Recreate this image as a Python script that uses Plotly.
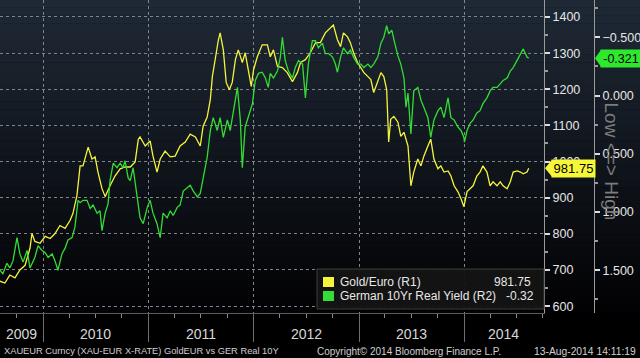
import plotly.graph_objects as go

# ---------------- data ----------------
gold_dates = [
    "2009-08-04", "2009-08-21", "2009-09-07", "2009-09-25", "2009-10-12", "2009-10-30", "2009-11-16", "2009-11-23",
    "2009-12-03", "2009-12-21",
    "2010-01-08", "2010-01-25", "2010-02-11", "2010-02-28", "2010-03-18", "2010-04-04", "2010-04-14", "2010-04-28",
    "2010-05-09", "2010-05-19", "2010-06-06", "2010-06-19", "2010-06-30", "2010-07-10", "2010-07-24", "2010-08-04",
    "2010-08-21", "2010-09-07", "2010-09-25", "2010-10-12", "2010-10-30", "2010-11-16", "2010-11-27", "2010-12-03",
    "2010-12-21",
    "2011-01-07", "2011-01-17", "2011-01-31", "2011-02-11", "2011-02-28", "2011-03-18", "2011-04-04", "2011-04-21",
    "2011-05-09", "2011-05-26", "2011-06-13", "2011-06-30", "2011-07-10", "2011-07-24", "2011-08-04", "2011-08-11",
    "2011-08-21", "2011-09-01", "2011-09-07", "2011-09-18", "2011-09-28", "2011-10-09", "2011-10-19", "2011-10-30",
    "2011-11-09", "2011-11-23", "2011-12-03", "2011-12-14", "2011-12-24",
    "2012-01-01", "2012-01-14", "2012-01-31", "2012-02-18", "2012-02-28", "2012-03-10", "2012-03-24", "2012-04-10",
    "2012-04-27", "2012-05-15", "2012-06-01", "2012-06-12", "2012-06-29", "2012-07-16", "2012-08-03", "2012-08-20",
    "2012-09-06", "2012-09-24", "2012-10-04", "2012-10-18", "2012-10-29", "2012-11-08", "2012-11-22", "2012-12-02",
    "2012-12-13", "2012-12-27",
    "2013-01-08", "2013-01-18", "2013-02-01", "2013-02-11", "2013-02-21", "2013-03-07", "2013-03-18", "2013-03-28",
    "2013-04-07", "2013-04-14", "2013-04-21", "2013-05-02", "2013-05-16", "2013-05-26", "2013-06-06", "2013-06-20",
    "2013-06-30", "2013-07-10", "2013-07-24", "2013-08-04", "2013-08-14", "2013-08-28", "2013-09-07", "2013-09-18",
    "2013-10-02", "2013-10-12", "2013-10-23", "2013-11-06", "2013-11-16", "2013-11-27", "2013-12-10", "2013-12-21",
    "2013-12-31",
    "2014-01-11", "2014-01-21", "2014-02-01", "2014-02-14", "2014-02-25", "2014-03-07", "2014-03-21", "2014-04-01",
    "2014-04-11", "2014-04-25", "2014-05-06", "2014-05-16", "2014-05-30", "2014-06-10", "2014-06-20", "2014-07-04",
    "2014-07-15", "2014-07-25", "2014-08-07", "2014-08-13",
]
gold_eur = [
    669, 664, 686, 678, 700, 713, 760, 801, 779, 774,
    793, 787, 801, 823, 815, 837, 856, 906, 988, 988, 1040, 1007, 1013, 971, 925, 903, 933, 960, 980, 985, 985, 999,
    1062, 1068, 1043,
    1057, 1015, 971, 1007, 1029, 1013, 1015, 1043, 1054, 1076, 1068, 1043, 1098, 1123, 1172, 1235, 1290, 1337, 1356,
    1309, 1219, 1199, 1219, 1282, 1309, 1274, 1301, 1254, 1208,
    1254, 1290, 1323, 1323, 1290, 1309, 1263, 1260, 1246, 1221, 1246, 1274, 1282, 1301, 1329, 1329, 1356, 1370, 1378,
    1337, 1318, 1356, 1345, 1329, 1301, 1274,
    1260, 1246, 1235, 1227, 1191, 1219, 1246, 1235, 1199, 1054, 1117, 1125, 1109, 1070, 1081, 1043, 933, 971, 1007,
    988, 1015, 1043, 1062, 1007, 980, 988, 971, 974, 960, 933, 917, 897, 875,
    917, 925, 933, 960, 971, 988, 971, 933, 944, 933, 944, 933, 925, 944, 971, 974, 971, 966, 971, 981.75,
]

yield_dates = [
    "2009-08-04", "2009-08-14", "2009-08-28", "2009-09-07", "2009-09-18", "2009-10-02", "2009-10-12", "2009-10-23",
    "2009-11-06", "2009-11-16", "2009-12-03", "2009-12-14", "2009-12-28",
    "2010-01-08", "2010-01-18", "2010-02-01", "2010-02-11", "2010-02-21", "2010-03-07", "2010-03-18", "2010-03-28",
    "2010-04-11", "2010-04-21", "2010-05-02", "2010-05-09", "2010-05-19", "2010-06-02", "2010-06-13", "2010-06-23",
    "2010-07-07", "2010-07-17", "2010-07-24", "2010-08-04", "2010-08-14", "2010-08-21", "2010-09-01", "2010-09-14",
    "2010-09-25", "2010-10-05", "2010-10-12", "2010-10-23", "2010-10-30", "2010-11-09", "2010-11-16", "2010-11-27",
    "2010-12-03", "2010-12-14", "2010-12-28",
    "2011-01-07", "2011-01-17", "2011-01-31", "2011-02-11", "2011-02-21", "2011-03-07", "2011-03-18", "2011-03-28",
    "2011-04-11", "2011-04-21", "2011-05-02", "2011-05-16", "2011-05-26", "2011-06-06", "2011-06-20", "2011-06-30",
    "2011-07-10", "2011-07-24", "2011-08-04", "2011-08-14", "2011-08-28", "2011-09-07", "2011-09-18", "2011-10-02",
    "2011-10-12", "2011-10-23", "2011-11-06", "2011-11-16", "2011-11-23", "2011-12-03", "2011-12-14", "2011-12-28",
    "2012-01-07", "2012-01-18", "2012-01-31", "2012-02-11", "2012-02-21", "2012-02-28", "2012-03-10", "2012-03-24",
    "2012-04-03", "2012-04-10", "2012-04-20", "2012-05-01", "2012-05-15", "2012-05-25", "2012-06-05", "2012-06-19",
    "2012-06-29", "2012-07-09", "2012-07-23", "2012-08-03", "2012-08-13", "2012-08-27", "2012-09-06", "2012-09-17",
    "2012-10-01", "2012-10-11", "2012-10-18", "2012-10-29", "2012-11-08", "2012-11-22", "2012-12-02", "2012-12-13",
    "2012-12-27",
    "2013-01-08", "2013-01-18", "2013-02-01", "2013-02-11", "2013-02-21", "2013-03-07", "2013-03-18", "2013-03-28",
    "2013-04-07", "2013-04-14", "2013-04-25", "2013-05-05", "2013-05-16", "2013-05-26", "2013-06-06", "2013-06-13",
    "2013-06-20", "2013-06-30", "2013-07-10", "2013-07-24", "2013-08-04", "2013-08-14", "2013-08-28", "2013-09-07",
    "2013-09-18", "2013-10-02", "2013-10-12", "2013-10-23", "2013-11-06", "2013-11-16", "2013-11-27", "2013-12-10",
    "2013-12-21", "2013-12-31",
    "2014-01-02", "2014-01-11", "2014-01-21", "2014-02-01", "2014-02-14", "2014-02-25", "2014-03-07", "2014-03-21",
    "2014-04-01", "2014-04-11", "2014-04-25", "2014-05-06", "2014-05-16", "2014-05-30", "2014-06-10", "2014-06-20",
    "2014-07-04", "2014-07-15", "2014-07-25", "2014-08-07", "2014-08-13",
]
ger_real_10y = [
    1.50, 1.53, 1.44, 1.48, 1.42, 1.22, 1.36, 1.43, 1.33, 1.48, 1.39, 1.29, 1.33,
    1.35, 1.39, 1.36, 1.42, 1.50, 1.36, 1.31, 1.24, 1.22, 1.13, 0.90, 0.92, 0.90, 0.90, 0.97, 0.94, 1.01, 0.99, 1.16,
    1.01, 0.93, 0.73, 0.58, 0.62, 0.58, 0.62, 0.56, 0.71, 0.73, 0.62, 0.75, 0.96, 1.05, 1.10, 0.96,
    0.90, 1.01, 1.10, 1.22, 1.01, 1.05, 0.99, 1.03, 0.96, 0.94, 0.82, 0.79, 0.77, 0.82, 0.87, 0.84, 0.70, 0.53, 0.30,
    0.19, 0.30, 0.19, 0.36, 0.21, 0.30, 0.15, -0.07, 0.21, 0.62, 0.27, 0.19, 0.07,
    -0.13, -0.19, -0.20, -0.15, -0.07, -0.19, -0.15, -0.21, -0.33, -0.50, -0.30, -0.21, -0.15, -0.24, -0.30, -0.27,
    0.02, -0.27, -0.47, -0.47, -0.41, -0.45, -0.36, -0.36, -0.33, -0.27, -0.20, -0.33, -0.41, -0.36, -0.39, -0.33,
    -0.27,
    -0.27, -0.24, -0.27, -0.24, -0.27, -0.33, -0.45, -0.50, -0.60, -0.53, -0.56, -0.45, -0.34, -0.27, -0.15, 0.10,
    -0.02, 0.33, -0.04, -0.07, 0.04, 0.10, 0.19, 0.36, 0.21, 0.13, 0.10, 0.19, 0.02, 0.19, 0.21, 0.27, 0.30, 0.36,
    0.40, 0.30, 0.24, 0.21, 0.15, 0.13, 0.07, 0.02, -0.04, -0.07, -0.07, -0.10, -0.13, -0.15, -0.21, -0.24, -0.30,
    -0.36, -0.40, -0.33, -0.321,
]

gold_ticks = [600, 700, 800, 900, 1000, 1100, 1200, 1300, 1400]
yield_ticks = [-0.5, 0.0, 0.5, 1.0, 1.5]
year_starts = ["2010-01-01", "2011-01-01", "2012-01-01", "2013-01-01", "2014-01-01"]
year_labels = ["2009", "2010", "2011", "2012", "2013", "2014"]
gold_last = 981.75
yield_last = -0.321
legend_names = ["Gold/Euro (R1)", "German 10Yr Real Yield (R2)"]
legend_values = ["981.75", "-0.32"]

# ---------------- layout geometry ----------------
W, H = 640, 358
PR = 544          # right edge of plot (px)
PB = 313          # bottom of plot (px)
R2X = 594         # second axis position (px)
YELLOW = "#f4f43c"
GREEN = "#33dd33"
FONT = "Liberation Sans"
G_RANGE = [581, 1447]
Y_RANGE = [1.867, -0.820]


def px(x):
    return x / W


def py(y):
    return (PB - y) / PB


fig = go.Figure()
fig.add_trace(go.Scatter(x=gold_dates, y=gold_eur, mode="lines", yaxis="y",
                         line=dict(color=YELLOW, width=1.3), showlegend=False, hoverinfo="skip"))
fig.add_trace(go.Scatter(x=yield_dates, y=ger_real_10y, mode="lines", yaxis="y2",
                         line=dict(color=GREEN, width=1.3), showlegend=False, hoverinfo="skip"))

shapes = []
# background gradient (navy at top to black at bottom)
N = 40
top = (31, 41, 54)
bot = (2, 2, 4)
for i in range(N):
    t = (i + 0.5) / N
    c = tuple(int(round(top[k] + (bot[k] - top[k]) * t)) for k in range(3))
    shapes.append(dict(type="rect", xref="paper", yref="paper", x0=0, x1=1,
                       y0=1 - (i + 1) / N, y1=1 - i / N + 0.001, layer="below",
                       line=dict(width=0), fillcolor="rgb(%d,%d,%d)" % c))

# legend box
shapes.append(dict(type="rect", xref="paper", yref="paper", x0=px(317), x1=px(PR), y0=py(309), y1=py(269),
                   fillcolor="rgba(20,20,20,0.95)", line=dict(color="#3c3c3c", width=1), layer="above"))
shapes.append(dict(type="rect", xref="paper", yref="paper", x0=px(323), x1=px(334), y0=py(287), y1=py(277),
                   fillcolor=YELLOW, line=dict(width=0), layer="above"))
shapes.append(dict(type="rect", xref="paper", yref="paper", x0=px(323), x1=px(334), y0=py(301), y1=py(291),
                   fillcolor=GREEN, line=dict(width=0), layer="above"))

# value callouts: arrow tips (shapes) + boxes (annotations with background)
g_half = 8.5 * (G_RANGE[1] - G_RANGE[0]) / PB
shapes.append(dict(type="path", xref="paper", yref="y", layer="above", fillcolor="#f7f73a", line=dict(width=0),
                   path="M %f,%f L %f,%f L %f,%f Z" % (
                       px(PR + 1), gold_last, px(552), gold_last + g_half, px(552), gold_last - g_half)))
y_half = 8.5 * (Y_RANGE[0] - Y_RANGE[1]) / PB
shapes.append(dict(type="path", xref="paper", yref="y2", layer="above", fillcolor="#2ee82e", line=dict(width=0),
                   path="M %f,%f L %f,%f L %f,%f Z" % (
                       px(R2X + 1), yield_last, px(601), yield_last + y_half, px(601), yield_last - y_half)))

annotations = [
    dict(xref="paper", yref="y", x=px(551), y=gold_last, xanchor="left", text="%.2f" % gold_last, showarrow=False,
         bgcolor="#f7f73a", width=41, height=15, borderpad=1, align="center",
         font=dict(family=FONT, size=13, color="#000")),
    dict(xref="paper", yref="y2", x=px(600), y=yield_last, xanchor="left", text="%.3f" % yield_last,
         showarrow=False, bgcolor="#2ee82e", width=38, height=15, borderpad=1, align="center",
         font=dict(family=FONT, size=12.5, color="#000")),
    dict(xref="paper", yref="paper", x=px(338), y=py(282), text=legend_names[0], showarrow=False,
         xanchor="left", yanchor="middle", font=dict(family=FONT, size=12, color="#e8e8e8")),
    dict(xref="paper", yref="paper", x=px(338), y=py(296), text=legend_names[1], showarrow=False,
         xanchor="left", yanchor="middle", font=dict(family=FONT, size=12, color="#e8e8e8")),
    dict(xref="paper", yref="paper", x=px(533), y=py(282), text=legend_values[0], showarrow=False,
         xanchor="right", yanchor="middle", font=dict(family=FONT, size=12, color="#e8e8e8")),
    dict(xref="paper", yref="paper", x=px(504), y=py(296), text=legend_values[1], showarrow=False,
         xanchor="left", yanchor="middle", font=dict(family=FONT, size=12, color="#e8e8e8")),
    dict(xref="paper", yref="paper", x=px(624), y=py(161), text="Low <=> High", textangle=90, showarrow=False,
         font=dict(family=FONT, size=19, color="#7c7c7c")),
    dict(xref="paper", yref="paper", x=px(2), y=py(351), text="XAUEUR Curncy (XAU-EUR X-RATE) GoldEUR vs GER Real 10Y",
         showarrow=False, xanchor="left", yanchor="middle", font=dict(family=FONT, size=9.3, color="#d0d0d0")),
    dict(xref="paper", yref="paper", x=px(315), y=py(351), text="Copyright\u00a9 2014 Bloomberg Finance L.P.",
         showarrow=False, xanchor="left", yanchor="middle", font=dict(family=FONT, size=10, color="#d0d0d0")),
    dict(xref="paper", yref="paper", x=px(638), y=py(351), text="13-Aug-2014 14:11:19",
         showarrow=False, xanchor="right", yanchor="middle", font=dict(family=FONT, size=10.3, color="#d0d0d0")),
]
year_label_pos = ["2009-10-17", "2010-07-02", "2011-07-02", "2012-07-01", "2013-07-02", "2014-05-16"]
for lbl, pos in zip(year_labels, year_label_pos):
    annotations.append(dict(xref="x", yref="paper", x=pos, y=py(334), text=lbl, showarrow=False,
                            yanchor="middle", font=dict(family=FONT, size=14, color="#d8d8d8")))

grid_col = "#80858c"
fig.update_layout(
    width=W, height=H,
    margin=dict(l=0, r=0, t=0, b=H - PB, pad=0, autoexpand=False),
    paper_bgcolor="#000000",
    plot_bgcolor="rgba(0,0,0,0)",
    shapes=shapes,
    annotations=annotations,
    xaxis=dict(domain=[0, px(PR)], type="date", range=["2009-08-04", "2014-10-05"],
               tickvals=year_starts, showticklabels=False, ticks="outside", ticklen=28, tickwidth=1,
               tickcolor="#6e6e6e", showgrid=True, gridcolor=grid_col, griddash="dot", gridwidth=1,
               showline=True, linecolor="#5c5c5c", zeroline=False, automargin=False,
               minor=dict(dtick="M3", tick0="2009-01-01", ticks="outside", ticklen=4, tickcolor="#8a8a8a",
                          showgrid=False)),
    yaxis=dict(side="right", anchor="x", range=G_RANGE, tickvals=gold_ticks, ticks="outside", ticklen=5,
               tickwidth=2, tickcolor="#dddddd", showline=True, linecolor="#9a9a9a", linewidth=1,
               showgrid=True, gridcolor=grid_col, griddash="dot", gridwidth=1, zeroline=False, automargin=False,
               tickfont=dict(family=FONT, size=12.5, color="#e6e6e6"),
               minor=dict(dtick=50, tick0=0, ticks="outside", ticklen=3, tickcolor="#9a9a9a", showgrid=False)),
    yaxis2=dict(overlaying="y", side="right", anchor="free", position=px(R2X), range=Y_RANGE,
                tickvals=yield_ticks, tickformat=".3f", ticks="outside", ticklen=5, tickwidth=2,
                tickcolor="#dddddd", showline=True, linecolor="#9a9a9a", linewidth=1, showgrid=False,
                zeroline=False, automargin=False, tickfont=dict(family=FONT, size=12.5, color="#e6e6e6"),
                minor=dict(dtick=0.25, tick0=0, ticks="outside", ticklen=3, tickcolor="#9a9a9a")),
)

fig.write_html("out.html", config={"displayModeBar": False},
               post_script="document.body.style.margin='0';document.body.style.background='#000';")
